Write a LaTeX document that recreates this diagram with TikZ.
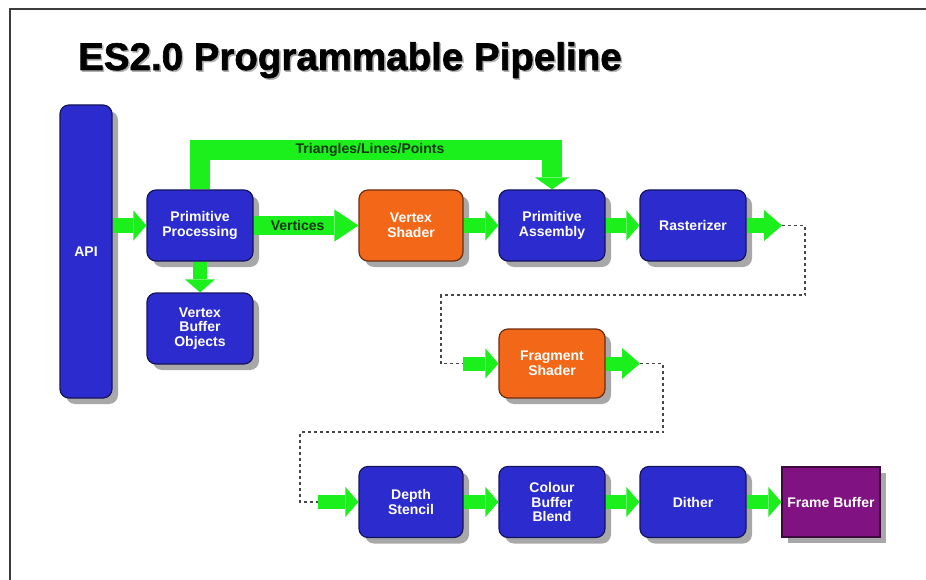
\documentclass[tikz,border=0pt]{standalone}
\usepackage{fontspec}
\setmainfont{Liberation Sans}
\newfontfamily\titlefont[FakeBold=1.5]{Liberation Sans Bold}
\usetikzlibrary{arrows.meta,shadows}
\definecolor{boxblue}{RGB}{44,44,206}
\definecolor{boxline}{RGB}{20,20,90}
\definecolor{boxorange}{RGB}{242,104,24}
\definecolor{orangeline}{RGB}{110,45,15}
\definecolor{boxpurple}{RGB}{128,18,130}
\definecolor{purpleline}{RGB}{60,10,60}
\definecolor{flowgreen}{RGB}{28,240,28}
\definecolor{shadowgray}{RGB}{168,168,168}
\definecolor{labelgreen}{RGB}{20,55,20}
\definecolor{dashgray}{RGB}{70,70,70}
\definecolor{framegray}{RGB}{60,60,60}
\tikzset{
  stage/.style={rounded corners=9pt, draw=boxline, line width=1.2pt, fill=boxblue,
    minimum width=106pt, minimum height=71pt, text=white, align=center, inner sep=2pt,
    font=\bfseries\fontsize{14}{14.5}\selectfont,
    drop shadow={shadow xshift=6pt, shadow yshift=-6pt, fill=shadowgray, opacity=1}},
  shader/.style={stage, fill=boxorange, draw=orangeline},
  fbuf/.style={stage, rounded corners=0pt, fill=boxpurple, draw=purpleline},
  flow/.style={draw=flowgreen, line width=14pt,
    -{Triangle[width=30pt,length=13pt,line width=0pt]}},
  longflow/.style={flow, -{Triangle[width=31pt,length=18pt,line width=0pt]}},
  bigflow/.style={draw=flowgreen, line width=18pt,
    -{Triangle[width=32pt,length=24pt,line width=0pt]}},
  busflow/.style={draw=flowgreen, line width=20pt, line join=miter,
    -{Triangle[width=34pt,length=12pt,line width=0pt]}},
  dashline/.style={draw=dashgray, line width=1.3pt, dash pattern=on 3pt off 3pt},
  flowlabel/.style={text=labelgreen, font=\bfseries\fontsize{14}{14}\selectfont, inner sep=0pt}
}
\begin{document}
\begin{tikzpicture}[x=1pt,y=-1pt]
\useasboundingbox (0,0) rectangle (926,580);
\fill[white] (0,0) rectangle (926,580);
% frame
\draw[framegray, line width=2pt] (10,580) -- (10,9) -- (926,9);
% title
\node[anchor=base west, inner sep=0pt, text=gray!60, font=\titlefont\fontsize{38.5}{40}\selectfont] (titleshadow) at (79.5,71.5) {ES2.0 Programmable Pipeline};
\node[anchor=base west, inner sep=0pt, text=black, font=\titlefont\fontsize{38.5}{40}\selectfont] (title) at (78,70) {ES2.0 Programmable Pipeline};
% stages
\node[stage, minimum width=52pt, minimum height=293pt] (api) at (86,251.5) {API};
\node[stage] (pp) at (200,225.5) {Primitive\\Processing};
\node[stage] (vbo) at (200,328.5) {Vertex\\Buffer\\Objects};
\node[shader, minimum width=104pt] (vs) at (411,225.5) {Vertex\\Shader};
\node[stage] (pa) at (552,225.5) {Primitive\\Assembly};
\node[stage] (rast) at (693,225.5) {Rasterizer};
\node[shader, minimum height=69pt] (fs) at (552,363.5) {Fragment\\Shader};
\node[stage, minimum width=104pt] (ds) at (411,502) {Depth\\Stencil};
\node[stage] (cbb) at (552,502) {Colour\\Buffer\\Blend};
\node[stage] (dith) at (693,502) {Dither};
\node[fbuf, minimum width=98pt, minimum height=70pt] (fb) at (831,502) {Frame Buffer};
% helper coordinates
\coordinate (bus) at (370,150);
\coordinate (r1) at (782,225.5);
\coordinate (f0) at (463,363.5);
\coordinate (f1) at (640,363.5);
\coordinate (d0) at (318,502);
% connectors
\draw[flow] (api.east |- pp.west) -- (pp.west);
\draw[flow] (pp.south) -- (vbo.north);
\draw[bigflow] (pp.east) -- node[flowlabel, pos=0.42] {Vertices} (vs.west);
\draw[busflow] (pp.north) -- (pp.north |- bus) -- (pa.north |- bus) -- (pa.north);
\node[flowlabel] (buslabel) at (bus) {Triangles/Lines/Points};
\draw[flow] (vs.east) -- (pa.west);
\draw[flow] (pa.east) -- (rast.west);
\draw[longflow] (rast.east) -- (r1);
\draw[dashline] (r1) -- (805,225.5) -- (805,295) -- (441,295) -- (441,363.5) -- (f0);
\draw[flow] (f0) -- (fs.west);
\draw[longflow] (fs.east) -- (f1);
\draw[dashline] (f1) -- (663,363.5) -- (663,432) -- (300,432) -- (300,502) -- (d0);
\draw[flow] (d0) -- (ds.west);
\draw[flow] (ds.east) -- (cbb.west);
\draw[flow] (cbb.east) -- (dith.west);
\draw[flow] (dith.east) -- (fb.west);
\end{tikzpicture}
\end{document}
